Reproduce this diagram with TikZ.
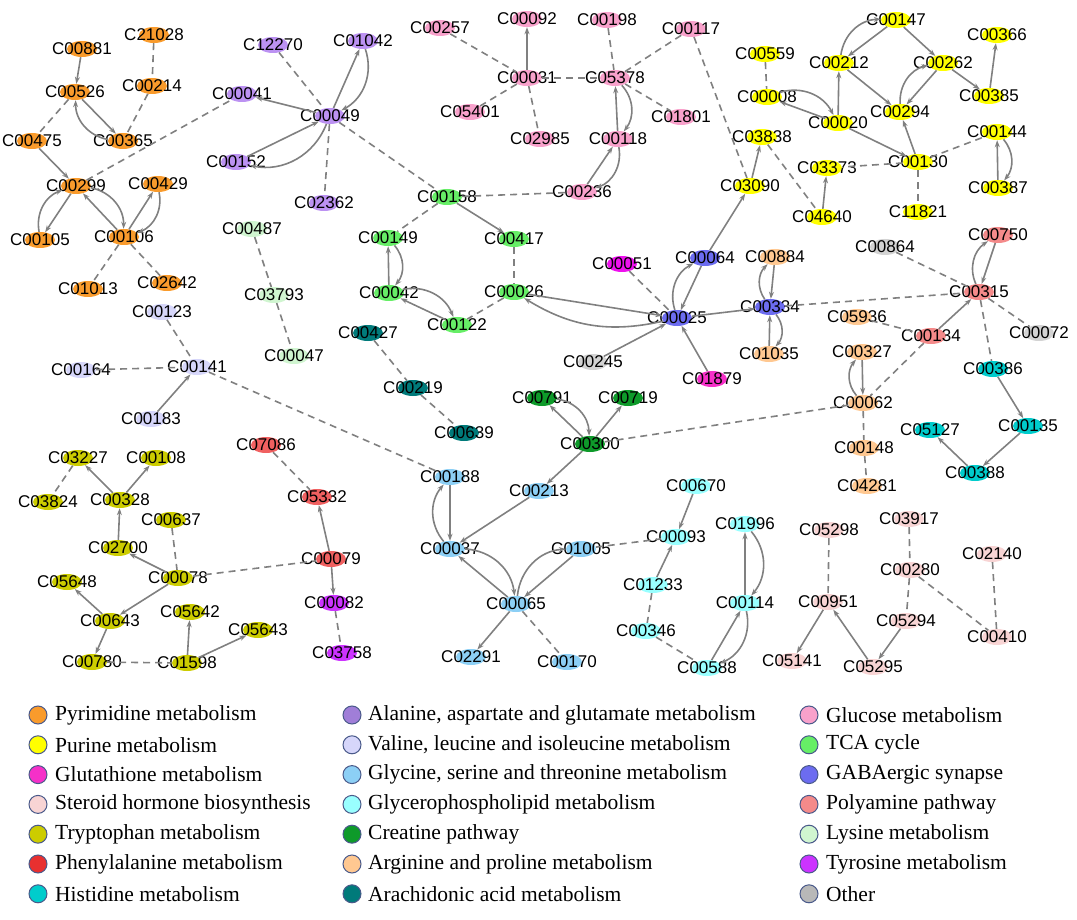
\documentclass[tikz,border=0pt]{standalone}
\usepackage{fontspec}
\setmainfont{Liberation Serif}
\newfontfamily\lsans{Liberation Sans}
\usetikzlibrary{shapes.geometric,arrows.meta}
\definecolor{cOr}{HTML}{F99B2C}
\definecolor{cAl}{HTML}{BC92F2}
\definecolor{cAlL}{HTML}{A07ED8}
\definecolor{cGl}{HTML}{F8A1CB}
\definecolor{cTC}{HTML}{66EE66}
\definecolor{cPu}{HTML}{FFFF00}
\definecolor{cOt}{HTML}{D3D3D3}
\definecolor{cOtL}{HTML}{B8B8B8}
\definecolor{cPo}{HTML}{F48A8A}
\definecolor{cGA}{HTML}{6C6CF0}
\definecolor{cGt}{HTML}{F530C8}
\definecolor{cGt2}{HTML}{EE11EE}
\definecolor{cAr}{HTML}{FFC891}
\definecolor{cHi}{HTML}{00CCCC}
\definecolor{cAc}{HTML}{007A7A}
\definecolor{cVa}{HTML}{D6D6FA}
\definecolor{cCr}{HTML}{0E9A2A}
\definecolor{cTr}{HTML}{CCCC00}
\definecolor{cPh}{HTML}{F06060}
\definecolor{cPhL}{HTML}{E83030}
\definecolor{cTy}{HTML}{CC33FF}
\definecolor{cGy}{HTML}{8CCFF5}
\definecolor{cGp}{HTML}{99FFFF}
\definecolor{cSt}{HTML}{F8D4D4}
\definecolor{cLy}{HTML}{D0F5D0}
\definecolor{cEd}{HTML}{808080}
\definecolor{cRim}{HTML}{4A5A8A}
\tikzset{
  met/.style={ellipse,draw=none,minimum width=30pt,minimum height=16pt,inner sep=0pt},
  lab/.style={font=\lsans\fontsize{17}{17}\selectfont,inner sep=0pt},
  a/.style={draw=cEd,line width=1.6pt,-{Stealth[length=7pt,width=5pt]}},
  d/.style={draw=cEd,line width=1.6pt,dash pattern=on 7pt off 5pt},
  b/.style={a,bend left=40},
  leg/.style={circle,draw=cRim,line width=1pt,minimum size=18pt,inner sep=0pt},
  legt/.style={anchor=west,font=\fontsize{21.5}{21.5}\selectfont,inner sep=0pt}
}
\newcommand\mt[4]{\node[met,fill=#4] (#1) at (#2,#3) {};\node[lab] at (#2,#3) {#1};}
\begin{document}
\begin{tikzpicture}[x=1pt,y=-1pt]
\useasboundingbox (0,0) rectangle (1077,920);
% pyrimidine
\mt{C00881}{82}{49}{cOr}\mt{C21028}{154}{35}{cOr}\mt{C00526}{75}{92}{cOr}
\mt{C00214}{152}{86}{cOr}\mt{C00475}{32}{141}{cOr}\mt{C00365}{123}{141}{cOr}
\mt{C00299}{76}{186}{cOr}\mt{C00429}{158}{184}{cOr}\mt{C00105}{40}{240}{cOr}
\mt{C00106}{124}{237}{cOr}\mt{C01013}{88}{289}{cOr}\mt{C02642}{167}{283}{cOr}
% alanine
\mt{C12270}{273}{45}{cAl}\mt{C01042}{363}{41}{cAl}\mt{C00041}{242}{94}{cAl}
\mt{C00049}{330}{116}{cAl}\mt{C00152}{236}{162}{cAl}\mt{C02362}{324}{203}{cAl}
% lysine
\mt{C00487}{252}{229}{cLy}\mt{C03793}{274}{295}{cLy}\mt{C00047}{294}{356}{cLy}
% glucose
\mt{C00257}{440}{28}{cGl}\mt{C00092}{527}{19}{cGl}\mt{C00198}{607}{20}{cGl}
\mt{C00117}{691}{29}{cGl}\mt{C00031}{527}{78}{cGl}\mt{C05378}{615}{78}{cGl}
\mt{C05401}{470}{112}{cGl}\mt{C01801}{681}{117}{cGl}\mt{C02985}{540}{139}{cGl}
\mt{C00118}{618}{139}{cGl}\mt{C00236}{582}{192}{cGl}
% TCA
\mt{C00158}{447}{197}{cTC}\mt{C00149}{388}{238}{cTC}\mt{C00417}{514}{239}{cTC}
\mt{C00042}{389}{293}{cTC}\mt{C00026}{514}{292}{cTC}\mt{C00122}{457}{325}{cTC}
% purine
\mt{C00147}{896}{20}{cPu}\mt{C00559}{765}{54}{cPu}\mt{C00212}{839}{63}{cPu}
\mt{C00262}{943}{63}{cPu}\mt{C00366}{997}{35}{cPu}\mt{C00008}{767}{97}{cPu}
\mt{C00294}{900}{112}{cPu}\mt{C00385}{989}{96}{cPu}\mt{C00020}{838}{123}{cPu}
\mt{C03838}{762}{137}{cPu}\mt{C00144}{997}{132}{cPu}\mt{C00130}{918}{162}{cPu}
\mt{C03373}{827}{168}{cPu}\mt{C03090}{750}{186}{cPu}\mt{C00387}{998}{188}{cPu}
\mt{C04640}{822}{217}{cPu}\mt{C11821}{918}{212}{cPu}
% other / polyamine
\mt{C00864}{885}{247}{cOt}\mt{C00072}{1039}{333}{cOt}\mt{C00245}{593}{362}{cOt}
\mt{C00750}{998}{235}{cPo}\mt{C00315}{979}{292}{cPo}\mt{C00134}{931}{336}{cPo}
% GABA, glutathione
\mt{C00064}{705}{258}{cGA}\mt{C00025}{677}{318}{cGA}\mt{C00334}{770}{307}{cGA}
\mt{C00051}{622}{264}{cGt2}\mt{C01879}{712}{379}{cGt}
% arginine
\mt{C00884}{775}{257}{cAr}\mt{C01035}{769}{354}{cAr}\mt{C05936}{857}{317}{cAr}
\mt{C00327}{862}{352}{cAr}\mt{C00062}{863}{403}{cAr}\mt{C00148}{864}{448}{cAr}
\mt{C04281}{867}{486}{cAr}
% histidine
\mt{C00386}{993}{369}{cHi}\mt{C00135}{1028}{426}{cHi}\mt{C05127}{930}{430}{cHi}
\mt{C00388}{975}{473}{cHi}
% arachidonic
\mt{C00427}{368}{333}{cAc}\mt{C00219}{413}{388}{cAc}\mt{C00639}{464}{433}{cAc}
% valine
\mt{C00123}{162}{312}{cVa}\mt{C00164}{81}{370}{cVa}\mt{C00141}{197}{367}{cVa}
\mt{C00183}{151}{419}{cVa}
% creatine
\mt{C00791}{542}{398}{cCr}\mt{C00719}{628}{398}{cCr}\mt{C00300}{590}{444}{cCr}
% tryptophan
\mt{C03227}{78}{458}{cTr}\mt{C00108}{156}{458}{cTr}\mt{C03824}{48}{502}{cTr}
\mt{C00328}{120}{500}{cTr}\mt{C00637}{171}{520}{cTr}\mt{C02700}{118}{548}{cTr}
\mt{C00078}{178}{578}{cTr}\mt{C05648}{67}{582}{cTr}\mt{C00643}{110}{621}{cTr}
\mt{C05642}{190}{612}{cTr}\mt{C05643}{258}{630}{cTr}\mt{C00780}{92}{662}{cTr}
\mt{C01598}{187}{663}{cTr}
% phenylalanine, tyrosine
\mt{C07086}{266}{445}{cPh}\mt{C05332}{317}{497}{cPh}\mt{C00079}{331}{559}{cPh}
\mt{C00082}{334}{603}{cTy}\mt{C03758}{342}{653}{cTy}
% glycine
\mt{C00188}{450}{477}{cGy}\mt{C00213}{539}{491}{cGy}\mt{C00037}{450}{549}{cGy}
\mt{C01005}{581}{549}{cGy}\mt{C00065}{516}{604}{cGy}\mt{C02291}{471}{657}{cGy}
\mt{C00170}{567}{662}{cGy}
% glycerophospholipid
\mt{C00670}{696}{486}{cGp}\mt{C00093}{676}{537}{cGp}\mt{C01996}{745}{524}{cGp}
\mt{C01233}{653}{585}{cGp}\mt{C00114}{745}{603}{cGp}\mt{C00346}{646}{631}{cGp}
\mt{C00588}{707}{668}{cGp}
% steroid
\mt{C05298}{829}{530}{cSt}\mt{C03917}{909}{519}{cSt}\mt{C02140}{992}{554}{cSt}
\mt{C00280}{910}{570}{cSt}\mt{C00951}{828}{602}{cSt}\mt{C05294}{906}{621}{cSt}
\mt{C00410}{997}{637}{cSt}\mt{C05141}{792}{661}{cSt}\mt{C05295}{873}{667}{cSt}
% ---------- edges
\draw[a] (C00881)--(C00526); \draw[d] (C21028)--(C00214); \draw[d] (C00214)--(C00365);
\draw[a] (C00526)--(C00365); \draw[b] (C00365) to (C00526); \draw[d] (C00526)--(C00475);
\draw[a] (C00475)--(C00299); \draw[a] (C00299)--(C00105); \draw[b] (C00105) to (C00299);
\draw[a] (C00106)--(C00299); \draw[b] (C00299) to (C00106);
\draw[a] (C00106)--(C00429); \draw[b] (C00429) to (C00106);
\draw[d] (C00106)--(C01013); \draw[d] (C00106)--(C02642); \draw[d] (C00299)--(C00041);
\draw[a] (C00049)--(C00041); \draw[a] (C00049)--(C01042); \draw[b] (C01042) to (C00049);
\draw[a] (C00152)--(C00049); \draw[b] (C00049) to (C00152);
\draw[d] (C12270)--(C00049); \draw[d] (C00049)--(C02362); \draw[d] (C00049)--(C00158);
\draw[d] (C00487)--(C03793); \draw[d] (C03793)--(C00047);
\draw[a] (C00031)--(C00092); \draw[d] (C00257)--(C00031); \draw[d] (C00031)--(C05401);
\draw[d] (C00031)--(C02985); \draw[d] (C00031)--(C05378); \draw[d] (C00198)--(C05378);
\draw[d] (C00117)--(C05378); \draw[d] (C05378)--(C01801);
\draw[a] (C00118)--(C05378); \draw[b] (C05378) to (C00118);
\draw[a] (C00236)--(C00118); \draw[b] (C00118) to (C00236);
\draw[d] (C00158)--(C00236); \draw[d] (C00117)--(C03090);
\draw[d] (C00158)--(C00149); \draw[a] (C00158)--(C00417); \draw[d] (C00417)--(C00026);
\draw[a] (C00042)--(C00149); \draw[b] (C00149) to (C00042);
\draw[a] (C00122)--(C00042); \draw[b] (C00042) to (C00122);
\draw[d] (C00026)--(C00122);
\draw[a] (C00026)--(C00025); \draw[a,bend left=22] (C00025) to (C00026);
\draw[b] (C00025) to (C00064); \draw[a] (C00064)--(C00025);
\draw[a] (C00064)--(C03090); \draw[a] (C03090)--(C03838);
\draw[a] (C00025)--(C00334); \draw[d] (C00051)--(C00025);
\draw[a] (C00245)--(C00025); \draw[a] (C01879)--(C00025);
\draw[d] (C00334)--(C00315);
\draw[a] (C00884)--(C00334); \draw[b] (C00334) to (C00884);
\draw[a] (C01035)--(C00334); \draw[b] (C00334) to (C01035);
\draw[a] (C00147)--(C00212); \draw[b] (C00212) to (C00147);
\draw[a] (C00147)--(C00262); \draw[a] (C00212)--(C00294); \draw[a] (C00262)--(C00294);
\draw[b] (C00294) to (C00262); \draw[a] (C00262)--(C00385); \draw[a] (C00385)--(C00366);
\draw[d] (C00559)--(C00008); \draw[a] (C00020)--(C00008); \draw[b] (C00008) to (C00020);
\draw[a] (C00020)--(C00212); \draw[a] (C00020)--(C00130); \draw[a] (C00130)--(C00294);
\draw[d] (C00130)--(C00144); \draw[d] (C00130)--(C03373); \draw[d] (C00130)--(C11821);
\draw[a] (C04640)--(C03373); \draw[d] (C03838)--(C04640);
\draw[a] (C00387)--(C00144); \draw[b] (C00144) to (C00387);
\draw[d] (C00864)--(C00315); \draw[a] (C00750)--(C00315); \draw[b] (C00315) to (C00750);
\draw[a] (C00134)--(C00315); \draw[d] (C05936)--(C00134); \draw[d] (C00134)--(C00062);
\draw[d] (C00315)--(C00072); \draw[d] (C00315)--(C00386);
\draw[a] (C00327)--(C00062); \draw[b] (C00062) to (C00327);
\draw[d] (C00062)--(C00148); \draw[d] (C00148)--(C04281); \draw[d] (C00300)--(C00062);
\draw[a] (C00386)--(C00135); \draw[a] (C00135)--(C00388); \draw[a] (C00388)--(C05127);
\draw[a] (C00300)--(C00791); \draw[b] (C00791) to (C00300); \draw[a] (C00300)--(C00719);
\draw[a] (C00300)--(C00213);
\draw[d] (C00427)--(C00219); \draw[d] (C00219)--(C00639);
\draw[d] (C00123)--(C00141); \draw[d] (C00164)--(C00141); \draw[a] (C00183)--(C00141);
\draw[d] (C00141)--(C00188);
\draw[a] (C00328)--(C03227); \draw[a] (C00328)--(C00108); \draw[d] (C03227)--(C03824);
\draw[a] (C02700)--(C00328); \draw[a] (C00078)--(C02700); \draw[d] (C00637)--(C00078);
\draw[d] (C00078)--(C00079); \draw[a] (C00078)--(C00643); \draw[a] (C00643)--(C05648);
\draw[a] (C00643)--(C00780); \draw[d] (C00780)--(C01598); \draw[a] (C01598)--(C05642);
\draw[a] (C01598)--(C05643);
\draw[d] (C07086)--(C05332); \draw[a] (C00079)--(C05332); \draw[a] (C00079)--(C00082);
\draw[d] (C00082)--(C03758);
\draw[a] (C00188)--(C00037); \draw[b] (C00037) to (C00188); \draw[a] (C00213)--(C00037);
\draw[a] (C00065)--(C00037); \draw[b] (C00037) to (C00065);
\draw[a] (C01005)--(C00065); \draw[b] (C00065) to (C01005);
\draw[a] (C00065)--(C02291); \draw[d] (C00065)--(C00170); \draw[d] (C01005)--(C00093);
\draw[a] (C00670)--(C00093); \draw[a] (C01233)--(C00093); \draw[d] (C01233)--(C00346);
\draw[d] (C00346)--(C00588); \draw[a] (C00588)--(C00114); \draw[b] (C00114) to (C00588);
\draw[a] (C00114)--(C01996); \draw[b] (C01996) to (C00114);
\draw[d] (C05298)--(C00951); \draw[a] (C00951)--(C05141); \draw[a] (C05295)--(C00951);
\draw[a] (C05294)--(C05295); \draw[d] (C03917)--(C00280); \draw[d] (C00280)--(C05294);
\draw[d] (C00280)--(C00410); \draw[d] (C02140)--(C00410);
% ---------- legend
\foreach \c/\t [count=\i from 0] in {cOr/Pyrimidine metabolism,cPu/Purine metabolism,cGt/Glutathione metabolism,cSt/Steroid hormone biosynthesis,cTr/Tryptophan metabolism,cPhL/Phenylalanine metabolism,cHi/Histidine metabolism}{
  \node[leg,fill=\c] (la\i) at (38,{715+29.8*\i}) {};
  \node[legt] (lta\i) at (55,{715+29.8*\i}) {\t};}
\foreach \c/\t [count=\i from 0] in {cAlL/{Alanine, aspartate and glutamate metabolism},cVa/{Valine, leucine and isoleucine metabolism},cGy/{Glycine, serine and threonine metabolism},cGp/Glycerophospholipid metabolism,cCr/Creatine pathway,cAr/Arginine and proline metabolism,cAc/Arachidonic acid metabolism}{
  \node[leg,fill=\c] (lb\i) at (352,{715+29.8*\i}) {};
  \node[legt] (ltb\i) at (368,{715+29.8*\i}) {\t};}
\foreach \c/\t [count=\i from 0] in {cGl/Glucose metabolism,cTC/TCA cycle,cGA/GABAergic synapse,cPo/Polyamine pathway,cLy/Lysine metabolism,cTy/Tyrosine metabolism,cOtL/Other}{
  \node[leg,fill=\c] (lc\i) at (809,{715+29.8*\i}) {};
  \node[legt] (ltc\i) at (826,{715+29.8*\i}) {\t};}
\end{tikzpicture}
\end{document}
